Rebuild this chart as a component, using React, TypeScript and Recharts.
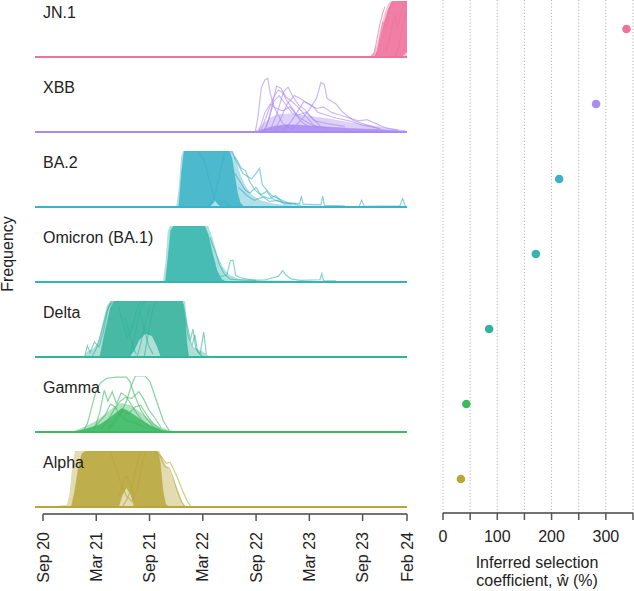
import React from 'react';
import {
  ComposedChart,
  Line,
  Area,
  XAxis,
  YAxis,
  ReferenceLine,
  ScatterChart,
  Scatter,
  CartesianGrid,
  Cell,
} from 'recharts';

const FONT = '"Liberation Sans", Arial, Helvetica, sans-serif';

// time is in months since Sep 2020
const dateTicks = [0, 6, 12, 18, 24, 30, 36, 41];
const dateLabels = ['Sep 20', 'Mar 21', 'Sep 21', 'Mar 22', 'Sep 22', 'Mar 23', 'Sep 23', 'Feb 24'];
const coefTicks = [0, 50, 100, 150, 200, 250, 300, 350];

const variantNames = ['JN.1', 'XBB', 'BA.2', 'Omicron (BA.1)', 'Delta', 'Gamma', 'Alpha'];
const variantColors = ['#F0719C', '#A98BF2', '#3CB1C7', '#35B5AE', '#35B29B', '#3CB862', '#B8A63B'];
const selectionCoef = [338, 282, 214, 171, 85, 43, 33];

// bands: [month, low, high] of the bulk of country trajectories
const jn1Haze = [[36.8, 0, 0], [37.2, 0, 0.08], [37.6, 0, 0.22], [38.0, 0, 0.5], [38.4, 0, 0.75], [38.8, 0, 0.92], [39.1, 0, 1], [41, 0, 1]];
const jn1Dense = [[37.3, 0, 0], [37.7, 0, 0.12], [38.1, 0, 0.4], [38.5, 0, 0.65], [38.9, 0, 0.85], [39.3, 0, 0.98], [39.6, 0, 1], [40.3, 0, 1], [40.7, 0.05, 1], [41, 0.1, 1]];
const xbbHaze = [[23.8, 0, 0], [24.5, 0, 0.1], [25.5, 0, 0.25], [26.5, 0, 0.32], [28, 0, 0.33], [29.5, 0, 0.3], [31, 0, 0.27], [33, 0, 0.22], [35, 0, 0.16], [37, 0, 0.12], [39, 0, 0.07], [40.8, 0, 0.03], [41, 0, 0]];
const xbbDense = [[24, 0, 0], [25, 0, 0.06], [26, 0, 0.1], [27.5, 0, 0.13], [29, 0, 0.12], [31, 0, 0.1], [33, 0, 0.08], [35, 0, 0.06], [37, 0, 0.05], [39, 0, 0.03], [40.8, 0, 0.01]];
const ba2Haze = [[15.0, 0, 0], [15.3, 0, 0.35], [15.55, 0, 0.9], [15.8, 0, 1], [21.4, 0, 1], [21.8, 0, 0.8], [22.3, 0, 0.55], [22.8, 0, 0.38], [23.5, 0, 0.22], [24.5, 0, 0.12], [26, 0, 0.06], [28, 0, 0.03], [32, 0, 0.02], [41, 0, 0.02]];
const ba2Dense = [[15.3, 0, 0], [15.6, 0, 0.6], [15.9, 0, 1], [18.7, 0, 1], [19.1, 0.06, 1], [19.4, 0.12, 1], [19.7, 0.06, 1], [20.1, 0, 1], [21.0, 0, 1], [21.3, 0, 0.85], [21.6, 0, 0.55], [21.9, 0, 0.25], [22.2, 0, 0.08], [22.6, 0, 0]];
const omiHaze = [[13.5, 0, 0], [13.8, 0, 0.35], [14.05, 0, 0.9], [14.3, 0, 1], [18.6, 0, 1], [19.1, 0, 0.78], [19.6, 0, 0.5], [20.2, 0, 0.28], [20.9, 0, 0.14], [22, 0, 0.06], [24, 0, 0.03], [30, 0, 0.02], [34, 0, 0.01], [41, 0, 0.01]];
const omiDense = [[13.8, 0, 0], [14.1, 0, 0.45], [14.4, 0, 0.92], [14.7, 0, 1], [18.2, 0, 1], [18.6, 0, 0.85], [19.1, 0, 0.5], [19.6, 0, 0.2], [20.1, 0, 0.05], [20.6, 0, 0]];
const deltaHaze = [[4.6, 0, 0], [5.0, 0, 0.1], [5.6, 0, 0.14], [6.2, 0, 0.25], [6.7, 0, 0.6], [7.2, 0, 0.92], [7.6, 0, 1], [16.0, 0, 1], [16.3, 0, 0.45], [16.7, 0, 0.2], [17.3, 0, 0.15], [18.0, 0, 0.1], [18.6, 0, 0.03], [19, 0, 0]];
const deltaDense = [[6.4, 0, 0], [7.0, 0, 0.45], [7.6, 0, 0.88], [8.1, 0, 1], [9.6, 0, 1], [10.2, 0.1, 1], [10.8, 0.3, 1], [11.5, 0.42, 1], [12.3, 0.38, 1], [12.9, 0.18, 1], [13.3, 0, 1], [15.7, 0, 1], [15.95, 0, 0.75], [16.2, 0, 0.25], [16.4, 0, 0]];
const gammaHaze = [[3.2, 0, 0], [4.5, 0, 0.08], [6, 0, 0.2], [7, 0, 0.32], [8, 0, 0.45], [8.8, 0, 0.52], [9.8, 0, 0.48], [10.8, 0, 0.38], [11.8, 0, 0.25], [12.8, 0, 0.12], [14, 0, 0.04], [15.5, 0, 0]];
const gammaDense = [[3.3, 0, 0], [4.5, 0, 0.04], [5.5, 0, 0.08], [6.5, 0, 0.14], [7.5, 0, 0.25], [8.3, 0, 0.35], [8.9, 0, 0.42], [9.5, 0, 0.38], [10.3, 0, 0.3], [11, 0, 0.22], [12, 0, 0.12], [13, 0, 0.05], [14.3, 0, 0.01], [15.4, 0, 0]];
const alphaHaze = [[0, 0, 0], [1.5, 0, 0.02], [2.7, 0, 0.04], [3.0, 0, 0.25], [3.3, 0, 0.75], [3.6, 0, 1], [13.1, 0, 1], [13.6, 0, 0.82], [14.2, 0, 0.66], [14.8, 0, 0.45], [15.3, 0, 0.25], [15.7, 0, 0.08], [16.1, 0, 0]];
const alphaDense = [[3.2, 0, 0], [3.6, 0, 0.3], [4.0, 0, 0.7], [4.4, 0, 0.95], [4.8, 0, 1], [8.5, 0, 1], [8.9, 0.2, 1], [9.4, 0.35, 1], [9.9, 0.22, 1], [10.3, 0, 1], [12.9, 0, 1], [13.2, 0, 0.8], [13.5, 0, 0.3], [13.8, 0, 0.05], [14.2, 0, 0]];

// individual trajectories: [month, frequency]
const jn1Lines = [
  [[37.5, 0], [37.7, 0.12], [38.0, 0.4], [38.3, 0.62], [38.6, 0.55], [38.9, 0.8], [39.2, 0.95], [39.6, 1]],
  [[38.6, 0.1], [39.0, 0.3], [39.4, 0.6], [39.7, 0.75], [39.9, 0.5], [40.2, 0.7], [40.6, 0.9], [41, 1]],
  [[36.9, 0], [37.3, 0.06], [37.6, 0.3], [37.9, 0.55], [38.2, 0.75], [38.5, 0.9]],
  [[39.6, 0], [40.0, 0.15], [40.4, 0.45], [40.7, 0.7], [41, 0.85]],
];
const xbbLines = [
  [[23.9, 0], [24.2, 0.25], [24.6, 0.8], [25.0, 0.93], [25.3, 0.96], [25.6, 0.7], [26.0, 0.45], [26.5, 0.3], [27, 0.15], [28, 0.05]],
  [[24.5, 0], [25.2, 0.3], [25.9, 0.6], [26.5, 0.75], [27.0, 0.7], [27.5, 0.55], [28.2, 0.4], [29, 0.2], [30, 0.08]],
  [[25, 0], [25.7, 0.4], [26.3, 0.82], [26.8, 0.78], [27.4, 0.62], [28, 0.55], [28.7, 0.45], [29.5, 0.3], [30.5, 0.12], [32, 0.05]],
  [[25.5, 0], [26.4, 0.35], [27.1, 0.72], [27.6, 0.8], [28.2, 0.62], [28.8, 0.48], [29.5, 0.4], [30.3, 0.25], [31.3, 0.1]],
  [[28, 0.05], [29, 0.2], [30, 0.4], [30.8, 0.6], [31.3, 0.88], [31.7, 0.85], [32, 0.6], [32.5, 0.55], [33, 0.5], [33.6, 0.38], [34.2, 0.3], [35, 0.2], [36, 0.15], [37, 0.1], [38, 0.05]],
  [[26, 0], [26.8, 0.25], [27.5, 0.5], [28.3, 0.65], [29, 0.6], [29.7, 0.52], [30.4, 0.45], [31, 0.35], [32, 0.3], [33, 0.25], [34.5, 0.2], [36, 0.12], [38, 0.06]],
  [[24.8, 0], [25.4, 0.2], [26, 0.55], [26.6, 0.65], [27.3, 0.5], [28, 0.35], [29, 0.25], [30, 0.15], [31, 0.08]],
  [[27, 0.02], [28, 0.2], [28.8, 0.4], [29.4, 0.55], [30, 0.5], [30.8, 0.42], [31.6, 0.45], [32.5, 0.35], [33.5, 0.3], [34.5, 0.25], [35.5, 0.2], [36.5, 0.22], [37.5, 0.15], [38.5, 0.08], [40, 0.03]],
  [[24.3, 0], [25.0, 0.35], [25.6, 0.5], [26.3, 0.42], [27.0, 0.38], [27.8, 0.45], [28.6, 0.3], [29.6, 0.35], [30.6, 0.2], [32, 0.15], [34, 0.1]],
];
const ba2Lines = [
  [[21.5, 0.9], [22, 0.75], [22.5, 0.6], [23, 0.55], [23.5, 0.5], [24, 0.6], [24.4, 0.69], [24.7, 0.4], [25.2, 0.3], [25.8, 0.2], [26.5, 0.15], [27.5, 0.08], [29, 0.03]],
  [[21.2, 1], [21.8, 0.85], [22.3, 0.7], [22.8, 0.65], [23.3, 0.45], [23.9, 0.3], [24.5, 0.22], [25.2, 0.28], [25.8, 0.15], [26.5, 0.1], [28, 0.05]],
  [[21.6, 0.6], [22.2, 0.45], [22.8, 0.3], [23.3, 0.25], [24, 0.35], [24.6, 0.2], [25.5, 0.15], [26.2, 0.2], [27, 0.08], [28.9, 0.06], [29.1, 0.2], [29.3, 0.05], [31.3, 0.04], [31.5, 0.2], [31.7, 0.03], [34, 0.02]],
  [[30, 0], [35.6, 0.01], [35.9, 0.12], [36.2, 0.01], [40.2, 0.02], [40.5, 0.15], [40.8, 0.02]],
  [[22, 0.35], [23, 0.2], [23.8, 0.12], [24.8, 0.18], [25.5, 0.1], [26.5, 0.12], [27.2, 0.05], [28.5, 0.06]],
  [[17.5, 1], [18.2, 0.8], [18.8, 0.45], [19.3, 0.15], [19.8, 0.05], [20.5, 0.1], [21, 0.02]],
  [[18.6, 0.02], [19.1, 0.1], [19.6, 0.35], [20.1, 0.72], [20.5, 1]],
];
const omiLines = [
  [[20, 0.1], [20.7, 0.12], [21.1, 0.38], [21.4, 0.39], [21.7, 0.12], [22.2, 0.08], [23, 0.05], [24, 0.03]],
  [[21, 0.05], [23, 0.03], [25, 0.04], [26.5, 0.1], [27, 0.2], [27.4, 0.12], [28, 0.05], [29, 0.03], [31.2, 0.04], [31.4, 0.15], [31.6, 0.02], [33, 0.02]],
  [[18.8, 0.8], [19.4, 0.55], [19.9, 0.3], [20.4, 0.15], [21, 0.06]],
];
const deltaLines = [
  [[9.8, 0], [10.3, 0.35], [10.7, 0.7], [11.1, 0.9], [11.5, 1]],
  [[10.6, 0], [11.1, 0.3], [11.6, 0.65], [12.0, 0.9]],
  [[11.4, 0], [11.9, 0.45], [12.3, 0.8], [12.7, 1]],
  [[9.2, 0.7], [9.7, 0.45], [10.1, 0.2], [10.5, 0.05]],
  [[10.9, 0.8], [11.4, 0.5], [11.9, 0.2], [12.4, 0.05]],
  [[15.8, 0.95], [16.2, 0.6], [16.6, 0.3], [16.9, 0.5], [17.2, 0.15], [17.7, 0.05], [18.1, 0.45], [18.4, 0.05]],
  [[4.7, 0], [5.0, 0.2], [5.3, 0.08], [5.8, 0.27], [6.3, 0.18], [6.8, 0.45], [7.3, 0.85], [7.7, 1]],
  [[5.5, 0], [6.0, 0.15], [6.5, 0.4], [7, 0.7], [7.4, 0.9], [8, 1]],
  [[8.5, 0.9], [9, 0.6], [9.5, 0.35], [10, 0.5], [10.5, 0.8], [11, 1]],
  [[16.0, 0.7], [16.4, 0.35], [16.8, 0.2], [17.1, 0.4], [17.4, 0.1], [17.9, 0.02]],
];
const gammaLines = [
  [[4.5, 0], [5.0, 0.15], [5.5, 0.45], [6.0, 0.75], [6.5, 0.88], [7.2, 0.96], [8.3, 0.98], [9.4, 0.98], [9.8, 0.9], [10.2, 0.7], [10.6, 0.55], [11.0, 0.4], [11.6, 0.25], [12.4, 0.1], [13.2, 0.02]],
  [[7.5, 0.05], [8.5, 0.25], [9.4, 0.55], [10.0, 0.85], [10.4, 1], [11.5, 1], [12.05, 0.9], [12.8, 0.55], [13.55, 0.2], [14.2, 0.03]],
  [[5.8, 0.05], [6.4, 0.35], [6.9, 0.75], [7.3, 0.55], [7.8, 0.72], [8.3, 0.5], [8.8, 0.7], [9.3, 0.65], [9.9, 0.5], [10.5, 0.35], [11.2, 0.2], [12, 0.08], [13, 0.02]],
  [[6.5, 0.05], [7.3, 0.2], [8.0, 0.4], [8.7, 0.55], [9.3, 0.62], [10.0, 0.6], [10.8, 0.72], [11.3, 0.6], [11.9, 0.4], [12.6, 0.25], [13.3, 0.08]],
  [[7.2, 0.05], [8.0, 0.2], [8.8, 0.4], [9.6, 0.32], [10.4, 0.45], [11.0, 0.48], [11.7, 0.3], [12.4, 0.15], [13.2, 0.05]],
  [[5.0, 0.02], [6.0, 0.12], [7.0, 0.3], [7.6, 0.5], [8.1, 0.45], [8.7, 0.3], [9.5, 0.2], [10.5, 0.15], [11.5, 0.08]],
];
const alphaLines = [
  [[12.8, 1], [13.4, 0.88], [13.9, 0.78], [14.3, 0.8], [14.7, 0.68], [15.2, 0.5], [15.7, 0.3], [16.2, 0.12], [16.6, 0.02]],
  [[12.6, 1], [13.2, 0.9], [13.7, 0.72], [14.2, 0.7], [14.6, 0.55], [15.1, 0.3], [15.6, 0.1], [16.0, 0]],
  [[8.6, 0.2], [9.0, 0.45], [9.4, 0.55], [9.8, 0.45], [10.2, 0.2]],
  [[7.5, 1], [8.2, 0.7], [8.8, 0.4], [9.4, 0.2], [10, 0.1], [10.6, 0.3], [11.2, 0.8], [11.6, 1]],
  [[9.0, 0.02], [9.5, 0.15], [10.0, 0.35], [10.5, 0.7], [11, 1]],
];

const hazeBands = [jn1Haze, xbbHaze, ba2Haze, omiHaze, deltaHaze, gammaHaze, alphaHaze];
const denseBands = [jn1Dense, xbbDense, ba2Dense, omiDense, deltaDense, gammaDense, alphaDense];
const trajectories = [jn1Lines, xbbLines, ba2Lines, omiLines, deltaLines, gammaLines, alphaLines];

const toBand = (rows: number[][]) => rows.map(([t, lo, hi]) => ({ t, r: [lo, hi] }));
const toLine = (rows: number[][]) => rows.map(([t, f]) => ({ t, f }));

const DateTick = (props: any) => {
  const { x, y, payload } = props;
  const label = dateLabels[dateTicks.indexOf(payload.value)];
  return (
    <text
      x={0}
      y={0}
      transform={`translate(${x},${y + 9}) rotate(-90)`}
      textAnchor="end"
      dy="0.35em"
      fontSize={16}
      fill="#222"
      fontFamily={FONT}
    >
      {label}
    </text>
  );
};

const CoefTick = (props: any) => {
  const { x, y, payload } = props;
  if (payload.value % 100 !== 0) return <g />;
  return (
    <text x={x} y={y} dy={20} textAnchor="middle" fontSize={16} fill="#222" fontFamily={FONT}>
      {payload.value}
    </text>
  );
};

function Panel({ i }: { i: number }) {
  const last = i === variantNames.length - 1;
  const base = 57 + 75 * i;
  const color = variantColors[i];
  return (
    <div style={{ position: 'absolute', left: 0, top: base - 60 }}>
      <ComposedChart
        width={420}
        height={last ? 144 : 64}
        margin={{ top: 4, right: 13, bottom: last ? 0 : 4, left: 35 }}
      >
        <XAxis
          type="number"
          dataKey="t"
          domain={[-0.9, 41]}
          allowDataOverflow
          hide={!last}
          ticks={dateTicks}
          interval={0}
          height={77}
          axisLine={false}
          tickSize={7}
          tickLine={{ stroke: '#555', strokeWidth: 1.5 }}
          tick={<DateTick />}
        />
        <YAxis type="number" domain={last ? [-0.125, 1] : [0, 1]} hide allowDataOverflow />
        <Area
          data={toBand(hazeBands[i])}
          dataKey="r"
          type="linear"
          stroke="none"
          fill={color}
          fillOpacity={0.4}
          isAnimationActive={false}
        />
        <Area
          data={toBand(denseBands[i])}
          dataKey="r"
          type="linear"
          stroke={color}
          strokeOpacity={0.5}
          strokeWidth={1}
          fill={color}
          fillOpacity={0.85}
          isAnimationActive={false}
        />
        {trajectories[i].map((tr, k) => (
          <Line
            key={k}
            data={toLine(tr)}
            dataKey="f"
            type="linear"
            stroke={color}
            strokeOpacity={0.6}
            strokeWidth={1.2}
            dot={false}
            isAnimationActive={false}
          />
        ))}
        <ReferenceLine y={0} stroke={color} strokeWidth={2.2} />
        {last && (
          <ReferenceLine
            segment={[{ x: 0, y: -0.125 }, { x: 41, y: -0.125 }]}
            stroke="#444"
            strokeWidth={1.5}
          />
        )}
      </ComposedChart>
    </div>
  );
}

export default function App() {
  // category axis runs bottom-up, so list the variants from the bottom panel
  const coefData = variantNames
    .map((name, i) => ({ name, w: selectionCoef[i], idx: i }))
    .reverse();
  return (
    <div
      style={{
        position: 'fixed',
        left: 0,
        top: 0,
        width: 634,
        height: 591,
        background: '#fff',
        overflow: 'hidden',
        fontFamily: FONT,
      }}
    >
      {variantNames.map((_, i) => (
        <Panel key={i} i={i} />
      ))}
      <div style={{ position: 'absolute', left: 0, top: 0 }}>
        <ScatterChart width={634} height={591} margin={{ top: 0, right: 1, bottom: 0, left: 443 }}>
          <CartesianGrid horizontal={false} strokeDasharray="1.2 2" stroke="#b3b3b3" />
          <XAxis
            type="number"
            dataKey="w"
            domain={[0, 350]}
            ticks={coefTicks}
            interval={0}
            height={78}
            tickSize={7}
            axisLine={{ stroke: '#444', strokeWidth: 1.5 }}
            tickLine={{ stroke: '#555', strokeWidth: 1.5 }}
            tick={<CoefTick />}
          />
          <YAxis type="category" dataKey="name" hide padding={{ top: -8.5, bottom: -3.5 }} />
          <Scatter
            data={coefData}
            isAnimationActive={false}
            shape={(p: any) => <circle cx={p.cx} cy={p.cy} r={4.3} fill={p.fill} />}
          >
            {coefData.map((d) => (
              <Cell key={d.name} fill={variantColors[d.idx]} />
            ))}
          </Scatter>
        </ScatterChart>
      </div>
      <svg
        width={634}
        height={591}
        style={{ position: 'absolute', left: 0, top: 0, pointerEvents: 'none' }}
        fontFamily={FONT}
      >
        {variantNames.map((name, i) => (
          <text key={name} x={43} y={18 + 75 * i} fontSize={16} fill="#222">
            {name}
          </text>
        ))}
        <text transform="translate(12.5,254) rotate(-90)" textAnchor="middle" fontSize={16} fill="#222">
          Frequency
        </text>
        <text x={537} y={568} textAnchor="middle" fontSize={16} fill="#222">
          Inferred selection
        </text>
        <text x={537} y={586} textAnchor="middle" fontSize={16} fill="#222">
          coefficient, ŵ (%)
        </text>
      </svg>
    </div>
  );
}
